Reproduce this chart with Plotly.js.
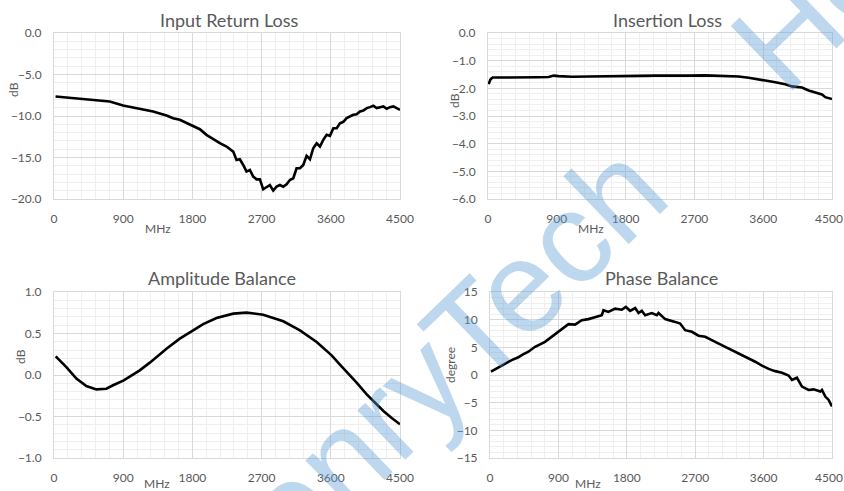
<!DOCTYPE html>
<html>
<head>
<meta charset="utf-8">
<script src="https://cdn.plot.ly/plotly-3.0.1.min.js"></script>
<style>html,body{margin:0;padding:0;background:#fff;}#chart{width:844px;height:491px;}</style>
</head>
<body>
<div id="chart"></div>
<script>
// ---------- DATA ----------
const xTicks = [0, 900, 1800, 2700, 3600, 4500];
const xTickText = ["0", "900", "1800", "2700", "3600", "4500"];

// Input Return Loss (dB)
const freqIRL = [20, 204, 378, 551, 725, 898, 1115, 1289, 1463, 1549, 1636, 1723, 1810, 1897, 1983, 2070, 2157, 2244, 2331, 2374, 2417, 2461, 2504, 2548, 2591, 2634, 2678, 2721, 2765, 2808, 2851, 2895, 2938, 2982, 3025, 3068, 3112, 3155, 3199, 3242, 3285, 3329, 3372, 3416, 3459, 3502, 3546, 3589, 3633, 3676, 3719, 3763, 3806, 3850, 3893, 3936, 3980, 4023, 4067, 4110, 4153, 4197, 4240, 4284, 4327, 4370, 4414, 4457, 4500];
const irl = [-7.65, -7.81, -7.93, -8.05, -8.25, -8.73, -9.13, -9.46, -9.94, -10.26, -10.46, -10.87, -11.19, -11.59, -12.27, -12.80, -13.28, -13.68, -14.29, -15.29, -15.21, -15.90, -16.70, -16.50, -17.30, -17.63, -17.63, -18.83, -18.59, -18.31, -18.99, -18.51, -18.31, -18.51, -18.23, -17.71, -17.50, -16.30, -16.30, -15.90, -14.81, -15.21, -13.88, -13.28, -13.68, -12.88, -12.27, -12.39, -11.47, -11.47, -10.87, -10.70, -10.26, -10.06, -9.86, -9.78, -9.46, -9.34, -9.05, -8.93, -8.77, -9.05, -8.93, -8.85, -9.13, -8.93, -8.85, -9.09, -9.26];

// Insertion Loss (dB)
const freqIL = [9, 31, 61, 227, 445, 663, 794, 859, 924, 1099, 1317, 1535, 1666, 1753, 1971, 2189, 2407, 2625, 2843, 2974, 3061, 3279, 3410, 3497, 3628, 3758, 3889, 3976, 4107, 4194, 4282, 4369, 4412, 4500];
const il = [-1.85, -1.68, -1.61, -1.61, -1.62, -1.60, -1.59, -1.54, -1.56, -1.58, -1.57, -1.57, -1.55, -1.57, -1.55, -1.54, -1.55, -1.54, -1.53, -1.55, -1.55, -1.57, -1.62, -1.67, -1.72, -1.78, -1.85, -1.93, -1.97, -2.08, -2.14, -2.22, -2.32, -2.39];

// Amplitude Balance (dB)
const freqAB = [22, 161, 291, 421, 551, 681, 768, 907, 1115, 1246, 1463, 1636, 1810, 1940, 2114, 2331, 2504, 2721, 2982, 3199, 3416, 3611, 3719, 3850, 3936, 4067, 4175, 4284, 4392, 4500];
const ab = [0.225, 0.096, -0.044, -0.133, -0.173, -0.165, -0.124, -0.064, 0.056, 0.149, 0.317, 0.438, 0.538, 0.614, 0.687, 0.739, 0.751, 0.727, 0.647, 0.538, 0.398, 0.237, 0.124, -0.004, -0.092, -0.233, -0.333, -0.434, -0.518, -0.594];

// Phase Balance (degree)
const freqPB = [13, 154, 198, 285, 373, 417, 505, 593, 724, 812, 900, 988, 1032, 1119, 1207, 1295, 1383, 1471, 1493, 1558, 1646, 1734, 1787, 1844, 1910, 1954, 1997, 2041, 2129, 2195, 2217, 2305, 2436, 2502, 2568, 2656, 2744, 2832, 2963, 3051, 3183, 3314, 3402, 3490, 3578, 3666, 3753, 3841, 3929, 3973, 4039, 4105, 4192, 4258, 4346, 4368, 4412, 4456, 4500];
const pb = [0.6, 1.7, 2.1, 2.7, 3.2, 3.6, 4.2, 5.1, 6.0, 6.9, 7.7, 8.7, 9.2, 9.1, 9.9, 10.1, 10.5, 10.8, 11.7, 11.4, 12.0, 11.8, 12.3, 11.6, 12.1, 11.2, 11.6, 10.8, 11.2, 10.8, 11.2, 10.1, 9.6, 9.3, 8.1, 7.8, 7.1, 6.9, 6.0, 5.4, 4.6, 3.6, 3.0, 2.4, 1.7, 1.1, 0.7, 0.4, -0.1, -0.9, -0.5, -2.1, -2.7, -2.6, -3.0, -2.7, -3.9, -4.5, -5.7];

const titles = ["Input Return Loss", "Insertion Loss", "Amplitude Balance", "Phase Balance"];
const yTitles = ["dB", "dB", "dB", "degree"];
const xTitle = "MHz";
const watermark = "HenryTech";

// ---------- LAYOUT ----------
const W = 844, H = 491;
const px = v => v / W;
const py = v => 1 - v / H;
const txtColor = "#595959";
const fontFam = "Lato, 'Open Sans', sans-serif";

const lineStyle = {color: "#000000", width: 2.6};
const traces = [
  {x: freqIRL, y: irl, xaxis: "x", yaxis: "y"},
  {x: freqIL, y: il, xaxis: "x2", yaxis: "y2"},
  {x: freqAB, y: ab, xaxis: "x3", yaxis: "y3"},
  {x: freqPB, y: pb, xaxis: "x4", yaxis: "y4"}
].map(t => Object.assign(t, {type: "scatter", mode: "lines", line: lineStyle, hoverinfo: "skip", showlegend: false}));

function xAx(l, r, anchor, lastShift) {
  const tt = xTickText.slice();
  if (lastShift) tt[tt.length - 1] = tt[tt.length - 1] + "\u00a0\u00a0";
  return {
    domain: [px(l), px(r)], anchor: anchor, range: [0, 4500],
    tickmode: "array", tickvals: xTicks, ticktext: tt,
    showgrid: true, gridcolor: "#d9d9d9", gridwidth: 1,
    minor: {dtick: 180, tick0: 0, showgrid: true, gridcolor: "#efefef", gridwidth: 1},
    showline: true, linecolor: "#d9d9d9", linewidth: 1, mirror: true,
    zeroline: false, ticks: "", ticklabelstandoff: 9, ticklabeloverflow: "allow",
    tickfont: {family: fontFam, size: 12, color: txtColor}, fixedrange: true
  };
}
function yAx(t, b, anchor, rng, dt, mdt, fmt) {
  return {
    domain: [py(b), py(t)], anchor: anchor, range: rng,
    dtick: dt, tick0: rng[0], tickformat: fmt,
    showgrid: true, gridcolor: "#d9d9d9", gridwidth: 1,
    minor: {dtick: mdt, tick0: rng[0], showgrid: true, gridcolor: "#efefef", gridwidth: 1},
    showline: true, linecolor: "#d9d9d9", linewidth: 1, mirror: true,
    zeroline: false, ticks: "", ticklabelstandoff: 9,
    tickfont: {family: fontFam, size: 12, color: txtColor}, fixedrange: true
  };
}

const annotations = [];
function ann(text, x, y, size, angle) {
  annotations.push({text: text, x: px(x), y: py(y), xref: "paper", yref: "paper",
    showarrow: false, xanchor: "center", yanchor: "middle", textangle: angle || 0,
    font: {family: fontFam, size: size, color: txtColor}});
}
ann(titles[0], 229, 20, 18);
ann(titles[1], 667, 20, 18);
ann(titles[2], 222, 278, 18);
ann(titles[3], 661, 278, 18);
ann(yTitles[0], 13, 90, 12, -90);
ann(yTitles[1], 454, 100, 12, -90);
ann(yTitles[2], 20, 357, 12, -90);
ann(yTitles[3], 450, 365, 12, -90);
ann(xTitle, 158, 228, 12);
ann(xTitle, 591, 228, 12);
ann(xTitle, 157, 483, 12);
ann(xTitle, 588, 483, 12);

// watermark
[[419, 384], [977, -150]].forEach(p => {
  annotations.push({text: watermark, x: px(p[0]), y: py(p[1]), xref: "paper", yref: "paper",
    showarrow: false, xanchor: "center", yanchor: "middle", textangle: -44,
    font: {family: "'Liberation Sans', Arial, sans-serif", size: 130, color: "rgba(91,155,213,0.4)"}});
});

const layout = {
  width: W, height: H, margin: {l: 0, r: 0, t: 0, b: 0},
  paper_bgcolor: "#ffffff", plot_bgcolor: "#ffffff", showlegend: false,
  xaxis: xAx(54, 400, "y", false),
  yaxis: yAx(33, 199, "x", [-20, 0], 5, 1, ".1f"),
  xaxis2: xAx(488, 832, "y2", true),
  yaxis2: yAx(33, 199, "x2", [-6, 0], 1, 0.2, ".1f"),
  xaxis3: xAx(54, 400, "y3", false),
  yaxis3: yAx(292, 458, "x3", [-1, 1], 0.5, 0.1, ".1f"),
  xaxis4: xAx(490, 832, "y4", true),
  yaxis4: yAx(292, 458, "x4", [-15, 15], 5, 1, "d"),
  annotations: annotations
};

Plotly.newPlot("chart", traces, layout, {staticPlot: true, displayModeBar: false});
</script>
</body>
</html>
